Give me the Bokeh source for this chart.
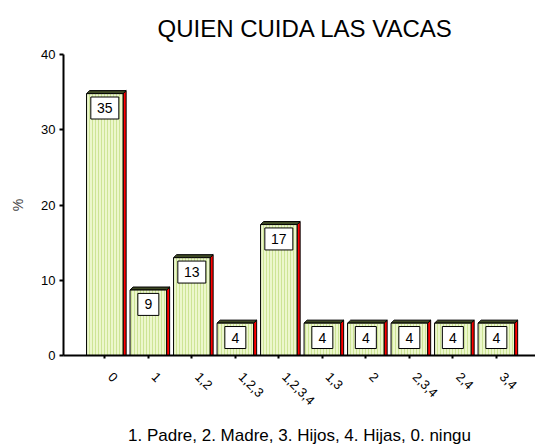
import math
from bokeh.plotting import figure
from bokeh.models import ColumnDataSource, Range1d, FixedTicker, LinearAxis
from bokeh.core.properties import value
from bokeh.embed import file_html
from bokeh.resources import INLINE

categories = ["0", "1", "1,2", "1,2,3", "1,2,3,4", "1,3", "2", "2,3,4", "2,4", "3,4"]
percents = [34.8, 8.7, 13.0, 4.3, 17.4, 4.3, 4.3, 4.3, 4.3, 4.3]
bar_labels = ["35", "9", "13", "4", "17", "4", "4", "4", "4", "4"]
y_ticks = [0, 10, 20, 30, 40]

FONT = "Liberation Sans"
W = 0.84      # bar width (category units)
DX = 0.07     # 3D depth, x
DY = 0.4      # 3D depth, y
Y_PER_PX = 40 / 314.0
X0, X1 = -0.95, 9.90
LAB_SHIFT = 0.13

xs = list(range(len(categories)))

p = figure(width=535, height=447, output_backend="svg", toolbar_location=None,
           x_range=Range1d(X0, X1), y_range=Range1d(0, 40),
           min_border_left=63, min_border_right=0, min_border_top=49,
           min_border_bottom=84)
p.extra_x_ranges = {"lab": Range1d(X0 - LAB_SHIFT, X1 - LAB_SHIFT)}
p.outline_line_color = None
p.grid.visible = False
p.background_fill_color = "white"

p.title.text = "QUIEN CUIDA LAS VACAS"
p.title.align = "left"
p.title.text_font = FONT
p.title.text_font_size = "24px"
p.title.text_font_style = "normal"
p.title.text_color = "black"
p.title.standoff = 25
p.title.offset = 94

box_y = [v - 15 * Y_PER_PX for v in percents]
box_w = [7 * len(s) + 14 for s in bar_labels]
src = ColumnDataSource(dict(x=xs, top=percents, lab=bar_labels, by=box_y, bw=box_w))

# side faces (red)
side_xs = [[x + W / 2, x + W / 2 + DX, x + W / 2 + DX, x + W / 2] for x in xs]
side_ys = [[0, 0, v + DY, v] for v in percents]
p.patches(side_xs, side_ys, fill_color="#ff0000", line_color="black", line_width=1)
# top faces
top_xs = [[x - W / 2, x - W / 2 + DX, x + W / 2 + DX, x + W / 2] for x in xs]
top_ys = [[v, v + DY, v + DY, v] for v in percents]
p.patches(top_xs, top_ys, fill_color="#3f4a25", line_color="black", line_width=1)
# front faces
p.vbar(x="x", top="top", bottom=0, width=W, source=src,
       fill_color="#ecf7cc", hatch_pattern="|", hatch_color="#cde495",
       hatch_scale=3, hatch_weight=1, line_color="black", line_width=1)

# value boxes
p.rect(x="x", y="by", width="bw", height=22, width_units="screen",
       height_units="screen", source=src, fill_color="white",
       line_color="black", line_width=1)
p.text(x="x", y="by", text="lab", source=src, text_align="center",
       text_baseline="middle", text_font=value(FONT), text_font_size="14px",
       text_color="black")

# y axis
p.yaxis.ticker = FixedTicker(ticks=y_ticks)
p.yaxis.minor_tick_line_color = None
p.yaxis.major_tick_in = 0
p.yaxis.major_tick_out = 4
p.yaxis.major_tick_line_width = 2
p.yaxis.axis_label = "%"
p.yaxis.axis_label_text_font = FONT
p.yaxis.axis_label_text_font_style = "normal"
p.yaxis.axis_label_text_font_size = "14px"
p.yaxis.axis_label_standoff = 12
p.yaxis.major_label_text_font = FONT
p.yaxis.major_label_text_font_size = "13px"
p.yaxis.major_label_text_color = "black"
p.yaxis.major_label_standoff = 4

# x axis: line and tick marks
p.xaxis.ticker = FixedTicker(ticks=xs)
p.xaxis.major_label_overrides = {i: "" for i in xs}
p.xaxis.major_label_text_font_size = "1px"
p.xaxis.major_label_standoff = 0
p.xaxis.minor_tick_line_color = None
p.xaxis.major_tick_in = 0
p.xaxis.major_tick_out = 3
p.xaxis.major_tick_line_width = 2

# x axis: category labels (slightly shifted like the original)
lab_axis = LinearAxis(x_range_name="lab", ticker=FixedTicker(ticks=xs),
                      major_label_overrides={i: c for i, c in enumerate(categories)},
                      axis_line_color=None, major_tick_line_color=None,
                      minor_tick_line_color=None,
                      major_label_orientation=-math.pi / 4,
                      major_label_text_font=FONT,
                      major_label_text_font_size="13px",
                      major_label_text_color="black",
                      major_label_standoff=10,
                      axis_label="1. Padre, 2. Madre, 3. Hijos, 4. Hijas, 0. ningu",
                      axis_label_text_font=FONT,
                      axis_label_text_font_style="normal",
                      axis_label_text_font_size="17px",
                      axis_label_text_color="black",
                      axis_label_standoff=14)
p.add_layout(lab_axis, "below")

p.yaxis.axis_line_width = 2
p.xaxis.axis_line_width = 2
p.yaxis.axis_line_color = "black"

open("out.html", "w").write(file_html(p, INLINE))
